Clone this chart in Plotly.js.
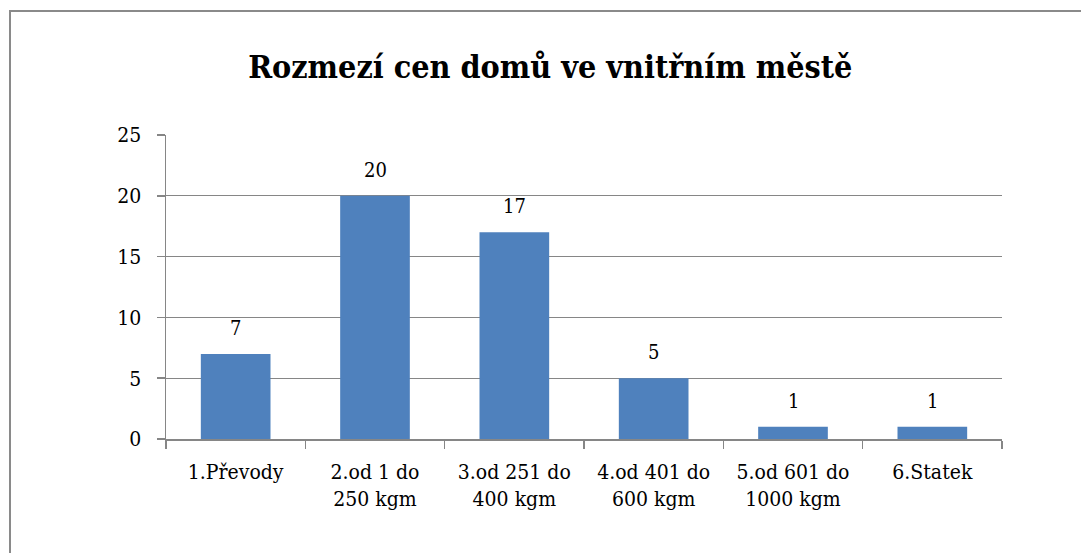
<!DOCTYPE html>
<html>
<head>
<meta charset="utf-8">
<script src="https://cdn.plot.ly/plotly-3.0.1.min.js"></script>
<style>
  html, body { margin: 0; padding: 0; background: #fff; }
  #frame {
    position: absolute; left: 9px; top: 10px; width: 1100px; height: 600px;
    border-top: 2px solid #8a8a8a; border-left: 2px solid #8a8a8a;
  }
  #chart { position: absolute; left: 0; top: 0; width: 1081px; height: 553px; }
</style>
</head>
<body>
<div id="frame"></div>
<div id="chart"></div>
<script>
const categories = [
  "1.Převody",
  "2.od 1 do<br>250 kgm",
  "3.od 251 do<br>400 kgm",
  "4.od 401 do<br>600 kgm",
  "5.od 601 do<br>1000 kgm",
  "6.Statek"
];
const counts = [7, 20, 17, 5, 1, 1];
const yTicks = [0, 5, 10, 15, 20, 25];

// Liberation Serif is not picked up here, DejaVu Serif Condensed is the closest serif
const serif = "DejaVu Serif Condensed, DejaVu Serif, serif";
const gray = "#868686";

const trace = {
  type: "bar",
  x: categories,
  y: counts,
  marker: { color: "#4f81bd", line: { width: 0 } },
  hoverinfo: "skip"
};

const labels = counts.map((v, i) => ({
  x: categories[i],
  y: v,
  text: String(v),
  showarrow: false,
  yanchor: "bottom",
  yshift: 12,
  font: { family: serif, size: 20, color: "#000" }
}));

Plotly.newPlot("chart", [trace], {
  width: 1081,
  height: 553,
  margin: { l: 166, r: 79, t: 135, b: 114 },
  paper_bgcolor: "rgba(0,0,0,0)",
  plot_bgcolor: "rgba(0,0,0,0)",
  bargap: 0.5,
  showlegend: false,
  title: {
    text: "<b>Rozmezí cen domů ve vnitřním městě</b>",
    font: { family: serif, size: 32, color: "#000" },
    x: 0.509,
    xanchor: "center",
    y: 0.88,
    yanchor: "middle"
  },
  xaxis: {
    type: "category",
    showline: true,
    linecolor: gray,
    linewidth: 1.5,
    ticks: "outside",
    tickson: "boundaries",
    ticklen: 8,
    tickcolor: gray,
    tickwidth: 1.5,
    ticklabelstandoff: 13,
    showgrid: false,
    tickfont: { family: serif, size: 21, color: "#000" }
  },
  yaxis: {
    range: [0, 25],
    tickvals: yTicks,
    showline: true,
    linecolor: gray,
    linewidth: 1.5,
    ticks: "outside",
    ticklen: 8,
    tickcolor: gray,
    tickwidth: 1.5,
    ticklabelstandoff: 11,
    showgrid: true,
    gridcolor: gray,
    gridwidth: 1.3,
    zeroline: false,
    tickfont: { family: serif, size: 21, color: "#000" }
  },
  annotations: labels
}, { staticPlot: true });
</script>
</body>
</html>
